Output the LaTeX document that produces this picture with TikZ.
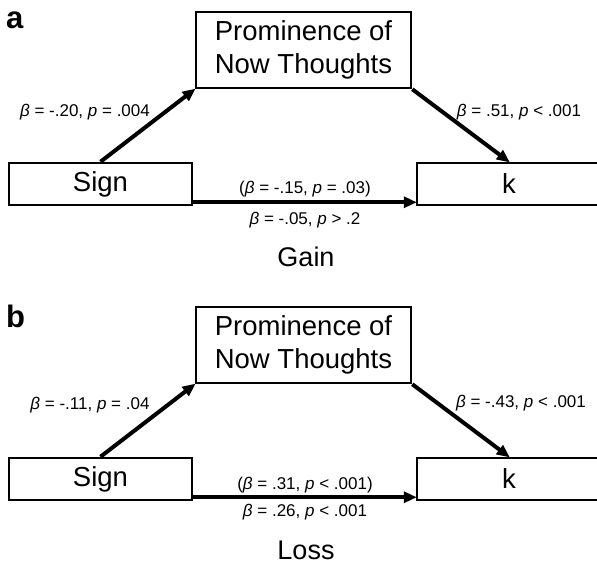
\documentclass[tikz,border=0pt]{standalone}
\usepackage{fontspec}
\setmainfont{Liberation Sans}
\usetikzlibrary{arrows.meta}
\begin{document}
\begin{tikzpicture}[x=1pt,y=1pt,
  box/.style={draw=black, line width=2.5pt, fill=white, inner sep=0pt, align=center,
    font=\fontsize{27.5}{33}\selectfont},
  arr/.style={line width=4pt, -{Triangle[length=13pt,width=11pt]}, shorten >=-1pt},
  lbl/.style={inner sep=0pt, font=\fontsize{17}{20}\selectfont},
  captext/.style={inner sep=0pt, font=\fontsize{27}{32}\selectfont},
  panel/.style={inner sep=0pt, anchor=base west, font=\bfseries\fontsize{31}{36}\selectfont}]
\useasboundingbox (0,0) rectangle (597,-564);
% ---------- panel a ----------
\node[panel] (pa) at (6,-29) {a};
\node[box, minimum width=215pt, minimum height=76pt] (promA) at (303.5,-50) {Prominence of\\Now Thoughts};
\node[box, minimum width=183pt, minimum height=42pt] (signA) at (100.5,-184) {Sign};
\node[box, minimum width=184pt, minimum height=42pt] (kA) at (509,-184) {k};
\draw[arr] (signA.north) -- (promA.south west);
\draw[arr] (promA.south east) -- (kA.north);
\draw[arr] ([yshift=4pt]signA.south east) -- ([yshift=4pt]kA.south west);
\node[lbl] (la1) at (85,-112) {\textit{β} = -.20, \textit{p} = .004};
\node[lbl] (la2) at (519,-112) {\textit{β} = .51, \textit{p} < .001};
\node[lbl] (la3) at (305,-189) {(\textit{β} = -.15, \textit{p} = .03)};
\node[lbl] (la4) at (305,-220) {\textit{β} = -.05, \textit{p} > .2};
\node[captext] (ga) at (306,-257) {Gain};
% ---------- panel b ----------
\node[panel] (pb) at (6,-327) {b};
\node[box, minimum width=215pt, minimum height=76pt] (promB) at (303.5,-345) {Prominence of\\Now Thoughts};
\node[box, minimum width=183pt, minimum height=42pt] (signB) at (100.5,-479) {Sign};
\node[box, minimum width=184pt, minimum height=42pt] (kB) at (509,-479) {k};
\draw[arr] (signB.north) -- (promB.south west);
\draw[arr] (promB.south east) -- (kB.north);
\draw[arr] ([yshift=4pt]signB.south east) -- ([yshift=4pt]kB.south west);
\node[lbl] (lb1) at (90,-405) {\textit{β} = -.11, \textit{p} = .04};
\node[lbl] (lb2) at (521,-403) {\textit{β} = -.43, \textit{p} < .001};
\node[lbl] (lb3) at (305,-485) {(\textit{β} = .31, \textit{p} < .001)};
\node[lbl] (lb4) at (305,-512) {\textit{β} = .26, \textit{p} < .001};
\node[captext] (gb) at (306,-550) {Loss};
\end{tikzpicture}
\end{document}
